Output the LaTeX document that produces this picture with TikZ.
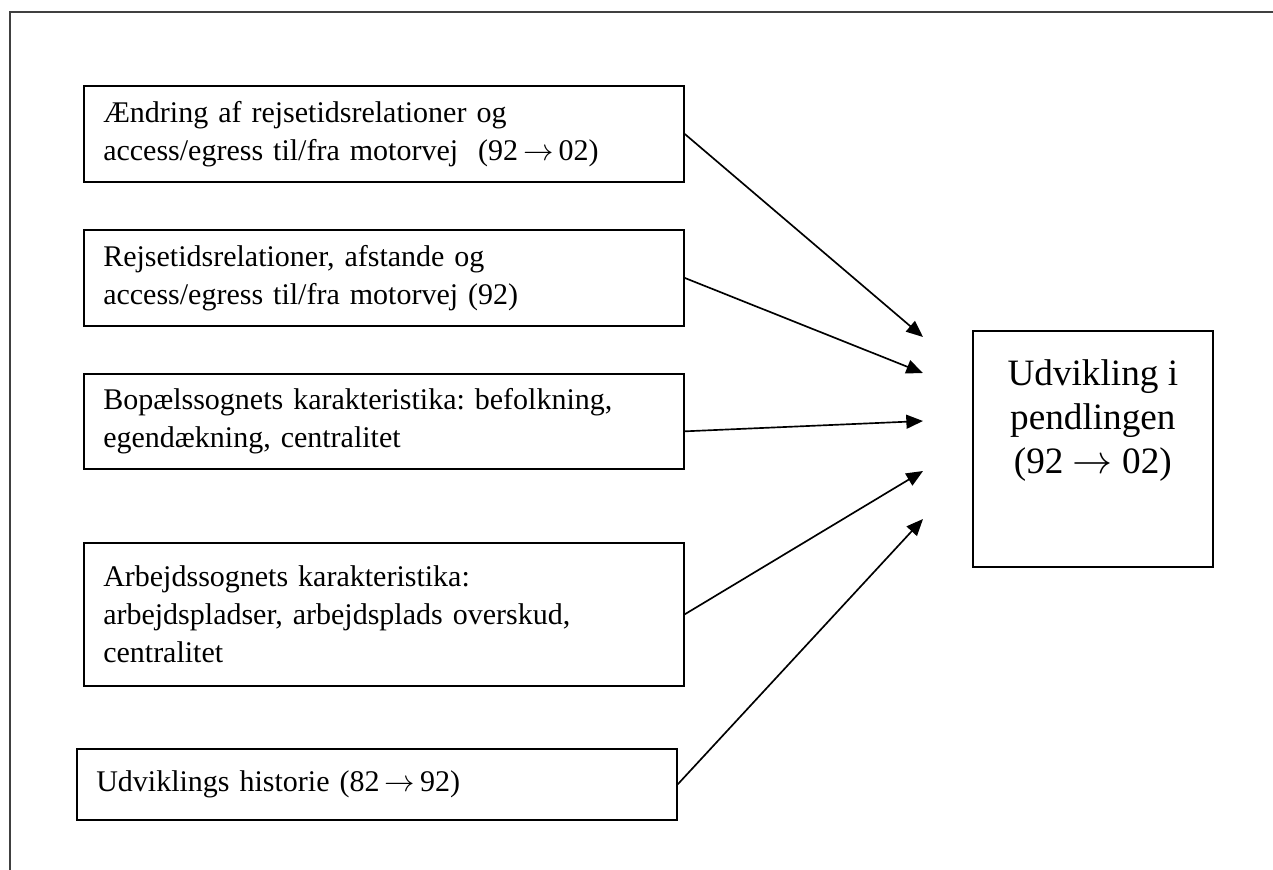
\documentclass[tikz,border=0pt]{standalone}
\usepackage{fontspec}
\setmainfont{Liberation Serif}
\usetikzlibrary{arrows.meta,calc}
\frenchspacing

\begin{document}
\begin{tikzpicture}[x=0.36pt,y=-0.36pt,
    factor/.style={draw,line width=0.6pt,anchor=north west,inner xsep=7pt,
      inner ysep=0pt,text width=202pt,align=left,
      font=\fontsize{10.8}{13.8}\selectfont},
    effect/.style={draw,line width=0.6pt,anchor=north west,inner sep=0pt,
      minimum width=86.4pt,minimum height=85pt,align=center,
      font=\fontsize{13.4}{15.8}\selectfont},
    link/.style={line width=0.6pt,-{Triangle[length=6pt,width=5pt]}}]
  \useasboundingbox (0,0) rectangle (1273,870);
  \draw[line width=0.75pt,black!75] (10,870) -- (10,12) -- (1273,12);

  \node[factor,minimum height=34.6pt] (change) at (83,85)
    {Ændring af rejsetidsrelationer og\\
     access/egress til/fra motorvej \ (92\,$\rightarrow$\,02)};
  \node[factor,minimum height=34.6pt] (travel) at (83,229)
    {Rejsetidsrelationer, afstande og\\
     access/egress til/fra motorvej (92)};
  \node[factor,minimum height=34.2pt] (home) at (83,373)
    {Bopælssognets karakteristika: befolkning,\\
     egendækning, centralitet};
  \node[factor,minimum height=51.5pt] (work) at (83,542)
    {Arbejdssognets karakteristika:\\
     arbejdspladser, arbejdsplads overskud,\\
     centralitet};
  \node[factor,minimum height=25.6pt] (history) at (76,748)
    {Udviklings historie (82\,$\rightarrow$\,92)};

  \node[effect] (commute) at (972,330)
    {Udvikling i\\pendlingen\\(92 $\rightarrow$ 02)\\[7.6pt]};

  \coordinate (t1) at (923,337);
  \coordinate (t2) at (923,373);
  \coordinate (t3) at (923,421);
  \coordinate (t4) at (923,471);
  \coordinate (t5) at (923,519);

  \draw[link] (change.east) -- (t1);
  \draw[link] (travel.east) -- (t2);
  \draw[link] ($(home.east)+(0,10)$) -- (t3);
  \draw[link] (work.east) -- (t4);
  \draw[link] (history.east) -- (t5);
\end{tikzpicture}
\end{document}
